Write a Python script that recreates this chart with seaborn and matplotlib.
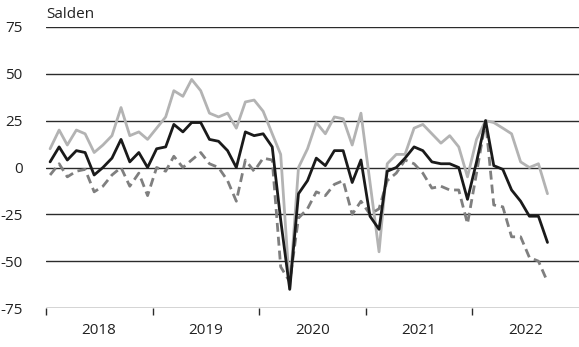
import numpy as np
import pandas as pd
import matplotlib
matplotlib.use("Agg")
import matplotlib.pyplot as plt
import seaborn as sns

# Monthly values, Jan 2018 - Sep 2022
months = pd.date_range("2018-01-01", periods=57, freq="MS") + pd.Timedelta(days=14)

black = [3, 11, 4, 9, 8, -4, 0, 5, 15, 3,
         8, 0, 10, 11, 23, 19, 24, 24, 15, 14,
         9, 0, 19, 17, 18, 11, -28, -65, -14, -7,
         5, 1, 9, 9, -8, 4, -26, -33, -2, 0,
         5, 11, 9, 3, 2, 2, 0, -17, 3, 25,
         1, -1, -12, -18, -26, -26, -40]

light = [10, 20, 12, 20, 18, 8, 12, 17, 32, 17,
         19, 15, 21, 27, 41, 38, 47, 41, 29, 27,
         29, 21, 35, 36, 30, 18, 7, -65, 0, 10,
         24, 18, 27, 26, 12, 29, -8, -45, 2, 7,
         7, 21, 23, 18, 13, 17, 11, -5, 15, 25,
         24, 21, 18, 3, 0, 2, -14]

dashed = [-4, 2, -5, -2, -1, -13, -10, -4, 0, -10,
          -3, -15, 0, -2, 6, 0, 4, 8, 2, 0,
          -7, -18, 4, -2, 5, 4, -53, -61, -27, -22,
          -13, -15, -9, -7, -25, -18, -25, -22, -7, -3,
          4, 2, -3, -11, -10, -12, -12, -30, -3, 25,
          -20, -21, -37, -37, -48, -50, -61]

years = ["2018", "2019", "2020", "2021", "2022"]
y_ticks = [75, 50, 25, 0, -25, -50, -75]

df = pd.DataFrame({"date": months, "black": black, "light": light, "dashed": dashed})

sns.set_theme(style="white")
plt.rcParams["font.family"] = ["Open Sans", "DejaVu Sans"]

fig = plt.figure(figsize=(5.79, 3.47), dpi=100)
ax = fig.add_axes([46 / 579, 1 - 308 / 347, 1 - 46 / 579, (308 - 27) / 347])

lw = 2.0
sns.lineplot(data=df, x="date", y="light", ax=ax, color="#b3b3b3", linewidth=lw)
sns.lineplot(data=df, x="date", y="dashed", ax=ax, color="#7f7f7f", linewidth=lw)
ax.lines[-1].set_dashes((3.2, 1.8))
sns.lineplot(data=df, x="date", y="black", ax=ax, color="#1a1a1a", linewidth=lw)

ax.set_xlim(pd.Timestamp("2018-01-01"), pd.Timestamp("2023-01-01"))
ax.set_ylim(-75, 75)

for v in y_ticks:
    ax.axhline(v, color="#2b2b2b", linewidth=1.0, zorder=0)

ax.set_yticks(y_ticks)
ax.set_yticklabels([str(v) for v in y_ticks], fontsize=11, color="#222222")
ax.tick_params(axis="y", length=0, pad=17)

major = [pd.Timestamp(f"{y}-01-01") for y in years]
minor = [pd.Timestamp(f"{y}-07-01") for y in years]
ax.set_xticks(major)
ax.set_xticklabels([""] * len(major))
ax.set_xticks(minor, minor=True)
ax.set_xticklabels(years, minor=True, fontsize=11, color="#222222")
ax.tick_params(axis="x", which="major", length=5, width=1, color="#2b2b2b", direction="out", bottom=True)
ax.tick_params(axis="x", which="minor", length=0, pad=11)

for s in ["left", "right", "top", "bottom"]:
    ax.spines[s].set_visible(False)

ax.set_xlabel("")
ax.set_ylabel("")
ax.patch.set_alpha(0)

fig.text(46 / 579, 1 - 18 / 347, "Salden", fontsize=11, color="#222222", va="baseline", ha="left")

fig.savefig("out.png", dpi=100)
